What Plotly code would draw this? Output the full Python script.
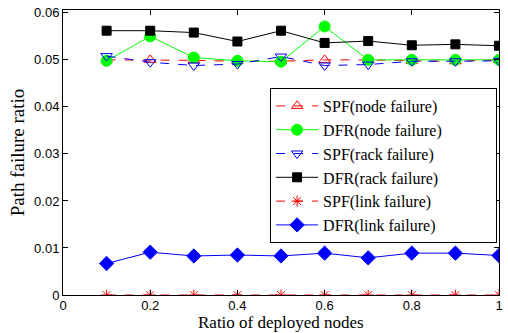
import plotly.graph_objects as go

x = [0.1, 0.2, 0.3, 0.4, 0.5, 0.6, 0.7, 0.8, 0.9, 1.0]
spf_node = [0.0500, 0.0500, 0.0499, 0.0497, 0.0497, 0.0500, 0.0500, 0.0498, 0.0497, 0.0500]
dfr_node = [0.0498, 0.0550, 0.0505, 0.0498, 0.0496, 0.0571, 0.0500, 0.0500, 0.0500, 0.0500]
spf_rack = [0.0508, 0.0495, 0.0488, 0.0491, 0.0507, 0.0488, 0.0490, 0.0497, 0.0497, 0.0498]
dfr_rack = [0.0562, 0.0562, 0.0558, 0.0539, 0.0562, 0.0536, 0.0540, 0.0531, 0.0533, 0.0530]
spf_link = [0, 0, 0, 0, 0, 0, 0, 0, 0, 0]
dfr_link = [0.0067, 0.0091, 0.0083, 0.0085, 0.0083, 0.0089, 0.0079, 0.0089, 0.0089, 0.0084]

series = [
    ("SPF(node failure)", spf_node, "#ff0000", "dash", "triangle-up-open", 10),
    ("DFR(node failure)", dfr_node, "#00ff00", "solid", "circle", 11),
    ("SPF(rack failure)", spf_rack, "#0000ff", "dash", "triangle-down-open", 10),
    ("DFR(rack failure)", dfr_rack, "#000000", "solid", "square", 9),
    ("SPF(link failure)", spf_link, "#ff0000", "dash", "asterisk-open", 9),
    ("DFR(link failure)", dfr_link, "#0000ff", "solid", "diamond", 11),
]

fig = go.Figure()
for name, y, c, dash, sym, sz in series:
    fig.add_trace(go.Scatter(
        x=x, y=y, name=name, mode="lines+markers",
        line=dict(color=c, width=1, dash=dash),
        marker=dict(symbol=sym, size=sz, color=c, line=dict(color=c, width=1)),
    ))

serif = "Liberation Serif, Times New Roman"
axis_common = dict(
    showline=True, linecolor="black", linewidth=1, mirror="ticks",
    ticks="inside", ticklen=5, tickcolor="black", showgrid=False, zeroline=False,
    tickfont=dict(family="Liberation Sans, Arial", size=13, color="black"),
)
fig.add_annotation(text="Ratio of deployed nodes", xref="paper", yref="paper",
                   x=0.5, y=-39 / 285, xanchor="center", yanchor="bottom",
                   showarrow=False, font=dict(family=serif, size=17, color="black"))
fig.update_layout(
    width=508, height=333,
    margin=dict(l=63, r=5, t=10, b=38),
    paper_bgcolor="white", plot_bgcolor="white",
    showlegend=True,
    legend=dict(
        orientation="h", entrywidth=168, entrywidthmode="pixels",
        x=(272 - 63) / 440, y=(295 - 88) / 285, xanchor="left", yanchor="top",
        bgcolor="white", bordercolor="black", borderwidth=1,
        font=dict(family=serif, size=16, color="black"),
        tracegroupgap=0, itemwidth=42,
    ),
    xaxis=dict(range=[0, 1], tickvals=[0, 0.2, 0.4, 0.6, 0.8, 1],
               ticktext=["0", "0.2", "0.4", "0.6", "0.8", "1"],
               ticklabelstandoff=-2,
               **axis_common),
    yaxis=dict(range=[0, 0.0606], tickvals=[0, 0.01, 0.02, 0.03, 0.04, 0.05, 0.06],
               ticktext=["0", "0.01", "0.02", "0.03", "0.04", "0.05", "0.06"],
               title=dict(text="Path failure ratio", standoff=4,
                          font=dict(family=serif, size=19, color="black")),
               **axis_common),
)
fig.write_html("out.html")
